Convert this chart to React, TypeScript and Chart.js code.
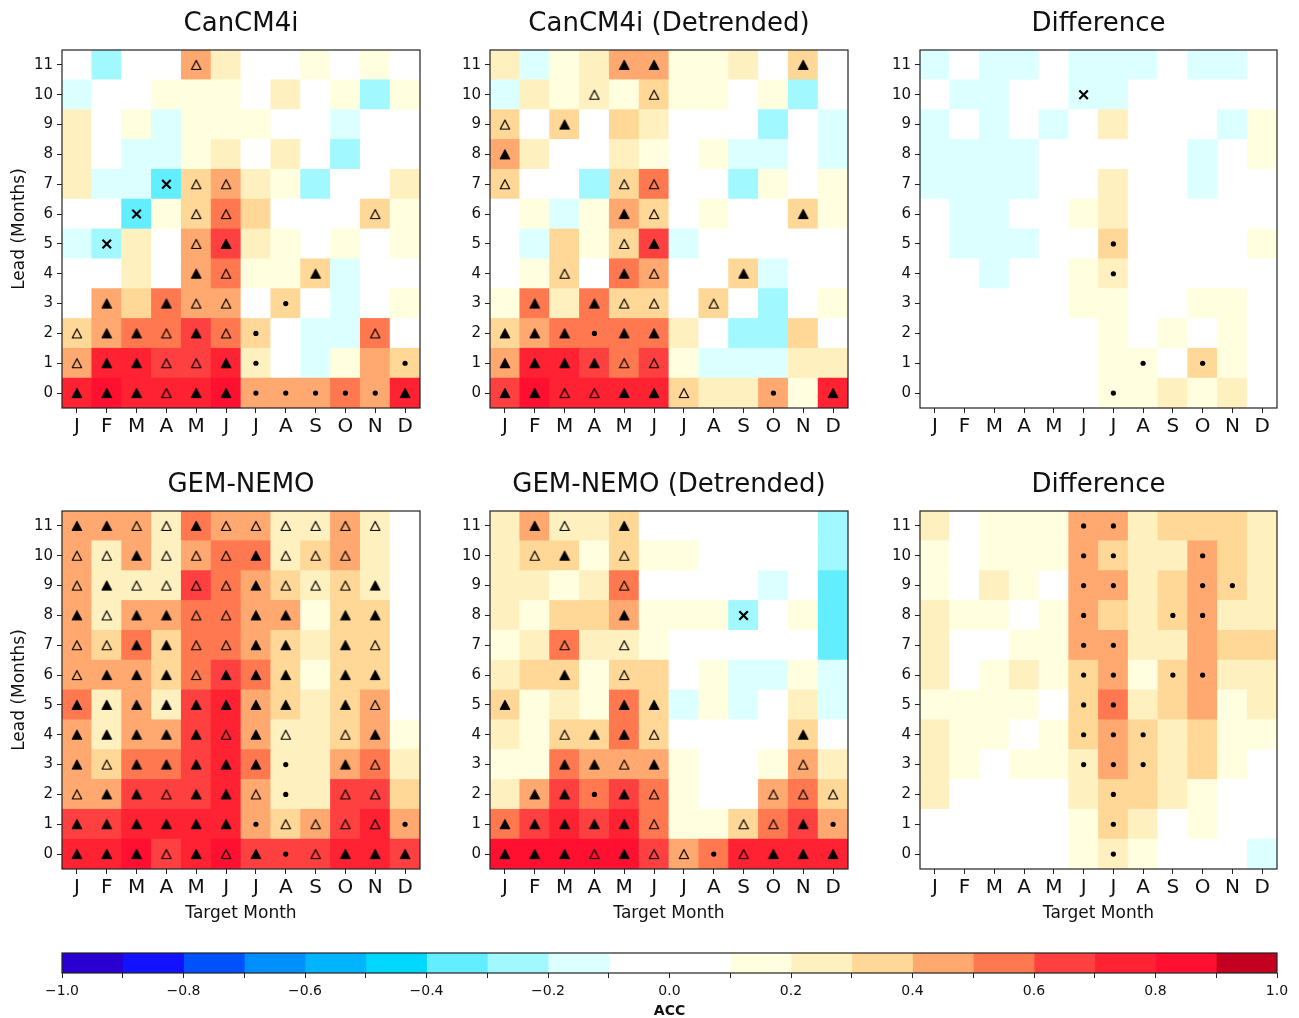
import React, { useEffect, useRef } from 'react';
import { Chart, registerables } from 'chart.js';

Chart.register(...registerables);
Chart.defaults.font.family = "'DejaVu Sans', sans-serif";
Chart.defaults.color = '#111';

// ---------- data ----------
const MONTHS = ['J', 'F', 'M', 'A', 'M', 'J', 'J', 'A', 'S', 'O', 'N', 'D'];
const LEADS = [0, 1, 2, 3, 4, 5, 6, 7, 8, 9, 10, 11];

const LEVEL_BOUNDS = [-1.0, -0.9, -0.8, -0.7, -0.6, -0.5, -0.4, -0.3, -0.2, -0.1, 0.0, 0.1, 0.2, 0.3, 0.4, 0.5, 0.6, 0.7, 0.8, 0.9, 1.0];
const LEVEL_COLORS = [
  '#2a00d2', '#1212ff', '#0052ff', '#008fff', '#00b4ff', '#00d8ff', '#62eeff', '#a2f8ff', '#dcffff', '#ffffff',
  '#ffffff', '#ffffe0', '#fff0c0', '#ffd898', '#ffa870', '#ff7850', '#ff4040', '#ff2232', '#ff1030', '#c40020',
];
const COLORBAR_LABELED = [-1.0, -0.8, -0.6, -0.4, -0.2, 0.0, 0.2, 0.4, 0.6, 0.8, 1.0];

// rows = lead 0..11, columns = target month J..D
// markers: F filled triangle, O open triangle, . dot, x cross, - none
const CANCM4I_ACC = [
  [0.75, 0.85, 0.75, 0.72, 0.78, 0.83, 0.45, 0.42, 0.44, 0.55, 0.46, 0.74],
  [0.45, 0.75, 0.75, 0.65, 0.65, 0.72, 0.25, 0.05, -0.12, 0.15, 0.42, 0.35],
  [0.35, 0.45, 0.55, 0.55, 0.65, 0.55, 0.33, 0.04, -0.13, -0.11, 0.55, 0.02],
  [0.05, 0.45, 0.35, 0.55, 0.45, 0.45, 0.06, 0.35, 0.03, -0.12, 0.02, 0.12],
  [0.02, 0.05, 0.25, 0.01, 0.45, 0.55, 0.15, 0.12, 0.35, -0.12, 0.04, 0.06],
  [-0.15, -0.25, 0.25, 0.05, 0.45, 0.65, 0.25, 0.15, 0.05, 0.12, 0.03, 0.13],
  [0.02, 0.01, -0.35, 0.12, 0.35, 0.55, 0.35, 0.05, 0.04, 0.06, 0.35, 0.14],
  [0.25, -0.15, -0.15, -0.35, 0.35, 0.45, 0.22, 0.13, -0.25, -0.02, 0.05, 0.24],
  [0.25, 0.05, -0.13, -0.15, 0.15, 0.25, 0.03, 0.23, 0.02, -0.25, 0.04, -0.03],
  [0.25, 0.04, 0.12, -0.13, 0.15, 0.14, 0.12, 0.06, 0.03, -0.12, 0.02, 0.01],
  [-0.13, 0.03, 0.05, 0.12, 0.14, 0.13, 0.04, 0.22, 0.02, 0.12, -0.25, 0.11],
  [0.05, -0.25, 0.02, 0.04, 0.45, 0.25, 0.06, 0.03, 0.12, 0.05, 0.12, 0.01],
];
const CANCM4I_SIG = [
  'FFFOFF.....F',
  'OFFOOF.----.',
  'OFFOFO.---O-',
  '-F-FOO-.----',
  '----FO--F---',
  '-x--OF------',
  '--x-OO----O-',
  '---xOO------',
  '------------',
  '------------',
  '------------',
  '----O-------',
];

const CANCM4I_DT_ACC = [
  [0.65, 0.85, 0.75, 0.75, 0.75, 0.78, 0.35, 0.25, 0.25, 0.45, 0.15, 0.72],
  [0.45, 0.75, 0.75, 0.65, 0.55, 0.65, 0.15, -0.15, -0.15, -0.12, 0.25, 0.25],
  [0.35, 0.45, 0.55, 0.55, 0.55, 0.55, 0.25, 0.05, -0.25, -0.25, 0.35, 0.05],
  [0.15, 0.55, 0.25, 0.55, 0.35, 0.35, 0.05, 0.35, 0.05, -0.25, 0.05, 0.12],
  [0.05, 0.12, 0.35, 0.05, 0.55, 0.45, 0.05, 0.05, 0.35, -0.15, 0.05, 0.05],
  [0.05, -0.15, 0.35, 0.12, 0.35, 0.65, -0.12, 0.05, 0.02, 0.04, 0.03, 0.05],
  [0.05, 0.12, -0.15, 0.12, 0.45, 0.35, 0.05, 0.12, 0.05, 0.05, 0.35, 0.12],
  [0.35, 0.05, 0.05, -0.25, 0.35, 0.55, 0.05, 0.05, -0.25, 0.12, 0.05, 0.12],
  [0.45, 0.25, 0.05, 0.05, 0.25, 0.15, 0.05, 0.12, -0.15, -0.15, 0.05, -0.15],
  [0.35, 0.05, 0.35, 0.05, 0.35, 0.25, 0.05, 0.05, 0.05, -0.25, 0.05, -0.15],
  [-0.15, 0.25, 0.15, 0.25, 0.15, 0.35, 0.12, 0.12, 0.05, 0.12, -0.25, 0.05],
  [0.25, -0.15, 0.15, 0.25, 0.45, 0.45, 0.15, 0.15, 0.25, 0.05, 0.35, 0.05],
];
const CANCM4I_DT_SIG = [
  'FFOOFFO--.-F',
  'FFFFOO------',
  'FFF.FF------',
  '-F-FOO-O----',
  '--O-FO--F---',
  '----OF------',
  '----FO----F-',
  'O---OO------',
  'F-----------',
  'O-F---------',
  '---O-O------',
  '----FF----F-',
];

const CANCM4I_DIFF_ACC = [
  [0.05, 0.02, 0.03, 0.05, 0.04, 0.05, 0.15, 0.12, 0.22, 0.15, 0.25, 0.02],
  [0.05, 0.03, 0.02, 0.04, 0.05, 0.02, 0.15, 0.13, 0.05, 0.35, 0.15, 0.03],
  [0.04, 0.02, 0.03, 0.05, 0.01, 0.03, 0.12, 0.05, 0.13, 0.04, 0.12, 0.02],
  [0.03, 0.04, 0.02, 0.01, 0.05, 0.12, 0.14, 0.04, 0.03, 0.12, 0.13, 0.02],
  [0.02, 0.04, -0.12, 0.03, 0.05, 0.12, 0.25, 0.04, 0.02, 0.03, 0.05, 0.01],
  [0.03, -0.13, -0.15, -0.12, 0.02, 0.04, 0.35, 0.03, 0.02, 0.04, 0.03, 0.12],
  [0.02, -0.14, -0.12, 0.03, 0.01, 0.12, 0.25, 0.05, 0.03, 0.02, 0.04, 0.03],
  [-0.12, -0.15, -0.13, -0.11, -0.05, 0.02, 0.25, 0.04, 0.01, -0.12, 0.03, -0.02],
  [-0.13, -0.12, -0.14, -0.12, -0.03, 0.02, -0.04, 0.03, 0.01, -0.13, 0.02, 0.12],
  [-0.12, -0.04, -0.13, -0.02, -0.11, -0.05, 0.25, 0.04, 0.02, -0.03, -0.12, 0.12],
  [-0.05, -0.12, -0.14, -0.03, -0.02, -0.13, -0.12, -0.04, -0.02, 0.01, -0.03, 0.02],
  [-0.13, -0.04, -0.12, -0.14, -0.03, -0.12, -0.15, -0.11, -0.02, -0.12, -0.13, -0.04],
];
const CANCM4I_DIFF_SIG = [
  '------.-----',
  '-------.-.--',
  '------------',
  '------------',
  '------.-----',
  '------.-----',
  '------------',
  '------------',
  '------------',
  '------------',
  '-----x------',
  '------------',
];

const GEMNEMO_ACC = [
  [0.75, 0.78, 0.82, 0.65, 0.78, 0.82, 0.65, 0.62, 0.66, 0.72, 0.74, 0.64],
  [0.65, 0.65, 0.72, 0.72, 0.75, 0.75, 0.45, 0.35, 0.45, 0.65, 0.72, 0.45],
  [0.45, 0.45, 0.65, 0.65, 0.65, 0.75, 0.45, 0.25, 0.25, 0.65, 0.65, 0.35],
  [0.45, 0.35, 0.55, 0.55, 0.65, 0.75, 0.55, 0.25, 0.25, 0.45, 0.55, 0.25],
  [0.45, 0.25, 0.45, 0.45, 0.65, 0.75, 0.45, 0.25, 0.25, 0.35, 0.45, 0.15],
  [0.55, 0.25, 0.45, 0.25, 0.65, 0.75, 0.45, 0.35, 0.25, 0.35, 0.45, 0.05],
  [0.45, 0.45, 0.45, 0.35, 0.55, 0.65, 0.55, 0.35, 0.15, 0.35, 0.35, 0.05],
  [0.45, 0.35, 0.55, 0.35, 0.55, 0.55, 0.45, 0.35, 0.25, 0.35, 0.35, 0.05],
  [0.45, 0.25, 0.45, 0.45, 0.55, 0.55, 0.45, 0.45, 0.15, 0.35, 0.35, 0.05],
  [0.45, 0.25, 0.25, 0.25, 0.65, 0.55, 0.45, 0.35, 0.25, 0.35, 0.25, 0.05],
  [0.45, 0.25, 0.45, 0.25, 0.45, 0.55, 0.55, 0.25, 0.35, 0.45, 0.25, 0.05],
  [0.45, 0.45, 0.45, 0.25, 0.55, 0.45, 0.45, 0.25, 0.25, 0.45, 0.25, 0.05],
];
const GEMNEMO_SIG = [
  'FFFOFOF.OFFF',
  'FFFFFF.OOOO.',
  'OFFOFFO.-OO-',
  'FOFFFFF.-FO-',
  'FFFFFOFO-OF-',
  'FFFFFFFF-FO-',
  'OFFFOFFF-FF-',
  'OOFFOOFF-FO-',
  'FOFFOOFF-FF-',
  'OFOOOOFOOOF-',
  'OOFOOOFOOO--',
  'FFOOFOOOOOO-',
];

const GEMNEMO_DT_ACC = [
  [0.85, 0.85, 0.85, 0.82, 0.85, 0.65, 0.45, 0.55, 0.75, 0.75, 0.75, 0.75],
  [0.55, 0.65, 0.72, 0.65, 0.72, 0.55, 0.15, 0.15, 0.35, 0.55, 0.65, 0.45],
  [0.25, 0.45, 0.65, 0.55, 0.65, 0.55, 0.15, 0.05, 0.05, 0.45, 0.55, 0.35],
  [0.15, 0.15, 0.55, 0.45, 0.45, 0.45, 0.15, 0.05, 0.05, 0.15, 0.45, 0.25],
  [0.25, 0.15, 0.35, 0.35, 0.55, 0.35, 0.05, 0.05, 0.05, 0.05, 0.35, 0.05],
  [0.35, 0.15, 0.25, 0.15, 0.55, 0.35, -0.15, 0.15, -0.15, 0.05, 0.25, -0.15],
  [0.25, 0.35, 0.35, 0.15, 0.35, 0.35, 0.05, 0.15, -0.15, -0.15, 0.15, -0.15],
  [0.15, 0.25, 0.55, 0.25, 0.25, 0.15, 0.05, 0.05, 0.05, 0.05, 0.05, -0.35],
  [0.25, 0.15, 0.35, 0.35, 0.45, 0.15, 0.15, 0.15, -0.25, 0.05, 0.15, -0.35],
  [0.25, 0.25, 0.15, 0.25, 0.55, 0.05, 0.05, 0.05, 0.05, -0.15, 0.05, -0.35],
  [0.25, 0.35, 0.35, 0.15, 0.35, 0.15, 0.15, 0.05, 0.05, 0.05, 0.05, -0.25],
  [0.25, 0.45, 0.25, 0.25, 0.35, 0.05, 0.05, 0.05, 0.05, 0.05, 0.05, -0.25],
];
const GEMNEMO_DT_SIG = [
  'FFFOFOO.OFFF',
  'FFFFFO--OOF.',
  '-FF.FO---OOO',
  '--FFOF----O-',
  '--OFFO----F-',
  'F---FF------',
  '--F-O-------',
  '--O-O-------',
  '----F---x---',
  '----O-------',
  '-OF-O-------',
  '-FO-F-------',
];

const GEMNEMO_DIFF_ACC = [
  [0.05, 0.03, 0.02, 0.04, 0.05, 0.15, 0.25, 0.12, 0.05, 0.02, 0.04, -0.12],
  [0.05, 0.02, 0.03, 0.05, 0.04, 0.12, 0.35, 0.25, 0.05, 0.12, 0.05, 0.02],
  [0.25, 0.05, 0.05, 0.05, 0.05, 0.25, 0.35, 0.35, 0.25, 0.12, 0.05, 0.05],
  [0.25, 0.12, 0.05, 0.12, 0.12, 0.25, 0.45, 0.35, 0.25, 0.35, 0.12, 0.05],
  [0.25, 0.12, 0.12, 0.05, 0.12, 0.35, 0.45, 0.35, 0.25, 0.35, 0.12, 0.12],
  [0.15, 0.12, 0.12, 0.12, 0.05, 0.35, 0.55, 0.25, 0.35, 0.45, 0.12, 0.25],
  [0.25, 0.05, 0.12, 0.25, 0.12, 0.35, 0.45, 0.12, 0.35, 0.45, 0.25, 0.25],
  [0.25, 0.05, 0.05, 0.12, 0.12, 0.45, 0.45, 0.25, 0.25, 0.45, 0.35, 0.35],
  [0.25, 0.12, 0.12, 0.05, 0.12, 0.45, 0.35, 0.25, 0.35, 0.45, 0.25, 0.25],
  [0.12, 0.05, 0.25, 0.12, 0.05, 0.45, 0.45, 0.25, 0.35, 0.45, 0.35, 0.25],
  [0.12, 0.05, 0.12, 0.12, 0.12, 0.45, 0.35, 0.25, 0.25, 0.45, 0.35, 0.25],
  [0.25, 0.05, 0.12, 0.12, 0.12, 0.45, 0.45, 0.25, 0.35, 0.35, 0.35, 0.25],
];
const GEMNEMO_DIFF_SIG = [
  '------.-----',
  '------.-----',
  '------.-----',
  '-----...----',
  '-----...----',
  '-----..-----',
  '-----..-..--',
  '-----..-----',
  '-----.--..--',
  '-----..--..-',
  '-----..--.--',
  '-----..-----',
];

// ---------- helpers ----------
function colorFor(v: number): string {
  let k = Math.floor(v * 10 + 1e-9);
  k = Math.max(-10, Math.min(9, k));
  return LEVEL_COLORS[k + 10];
}

let triCache: { filled: HTMLCanvasElement; open: HTMLCanvasElement } | null = null;
function triangles() {
  if (triCache) return triCache;
  const make = (filled: boolean) => {
    const c = document.createElement('canvas');
    c.width = 12;
    c.height = 12;
    const g = c.getContext('2d')!;
    g.beginPath();
    g.moveTo(6, 1.5);
    g.lineTo(1.3, 10.5);
    g.lineTo(10.7, 10.5);
    g.closePath();
    g.lineWidth = 1.2;
    g.lineJoin = 'round';
    g.strokeStyle = '#000';
    if (filled) {
      g.fillStyle = '#000';
      g.fill();
    }
    g.stroke();
    return c;
  };
  triCache = { filled: make(true), open: make(false) };
  return triCache;
}

function markerStyle(ch: string): any {
  const t = triangles();
  if (ch === 'F') return t.filled;
  if (ch === 'O') return t.open;
  if (ch === 'x') return 'crossRot';
  return 'circle';
}
function markerRadius(ch: string): number {
  if (ch === 'F' || ch === 'O') return 5;
  if (ch === 'x') return 6;
  if (ch === '.') return 2.6;
  return 0;
}

const framePlugin = {
  id: 'frame',
  afterDatasetsDraw(chart: any) {
    const { ctx, chartArea: a } = chart;
    ctx.save();
    ctx.strokeStyle = '#222';
    ctx.lineWidth = 1.2;
    ctx.strokeRect(a.left, a.top, a.right - a.left, a.bottom - a.top);
    ctx.restore();
  },
};

type PanelSpec = {
  title: string;
  acc: number[][];
  sig: string[];
  left: number;
  top: number;
  width: number;
  height: number;
  yAxisW: number;
  xAxisH: number;
  padRight: number;
  yTitle: boolean;
  xTitle: boolean;
};

const TOP = 0;
const BOTTOM = 461;
const PANELS: PanelSpec[] = [
  { title: 'CanCM4i', acc: CANCM4I_ACC, sig: CANCM4I_SIG, left: 0, top: TOP, width: 430, height: 458, yAxisW: 62, xAxisH: 50, padRight: 10, yTitle: true, xTitle: false },
  { title: 'CanCM4i (Detrended)', acc: CANCM4I_DT_ACC, sig: CANCM4I_DT_SIG, left: 430, top: TOP, width: 430, height: 458, yAxisW: 60, xAxisH: 50, padRight: 12, yTitle: false, xTitle: false },
  { title: 'Difference', acc: CANCM4I_DIFF_ACC, sig: CANCM4I_DIFF_SIG, left: 860, top: TOP, width: 439, height: 458, yAxisW: 60, xAxisH: 50, padRight: 22, yTitle: false, xTitle: false },
  { title: 'GEM-NEMO', acc: GEMNEMO_ACC, sig: GEMNEMO_SIG, left: 0, top: BOTTOM, width: 430, height: 469, yAxisW: 62, xAxisH: 61, padRight: 10, yTitle: true, xTitle: true },
  { title: 'GEM-NEMO (Detrended)', acc: GEMNEMO_DT_ACC, sig: GEMNEMO_DT_SIG, left: 430, top: BOTTOM, width: 430, height: 469, yAxisW: 60, xAxisH: 61, padRight: 12, yTitle: false, xTitle: true },
  { title: 'Difference', acc: GEMNEMO_DIFF_ACC, sig: GEMNEMO_DIFF_SIG, left: 860, top: BOTTOM, width: 439, height: 469, yAxisW: 60, xAxisH: 61, padRight: 22, yTitle: false, xTitle: true },
];

function buildHeatConfig(spec: PanelSpec): any {
  const datasets: any[] = [];
  LEADS.forEach((lead, li) => {
    datasets.push({
      type: 'bar',
      label: 'lead ' + lead,
      data: MONTHS.map(() => [lead - 0.5, lead + 0.5]),
      backgroundColor: spec.acc[li].map(colorFor),
      borderWidth: 0,
      grouped: false,
      barPercentage: 1,
      categoryPercentage: 1,
      inflateAmount: 0.4,
      order: 2,
    });
  });
  LEADS.forEach((lead, li) => {
    const row = spec.sig[li];
    datasets.push({
      type: 'line',
      label: 'sig ' + lead,
      data: MONTHS.map((_, mi) => (row[mi] === '-' ? null : lead)),
      showLine: false,
      order: 1,
      pointStyle: (c: any) => markerStyle(row[c.dataIndex] || '.'),
      pointRadius: (c: any) => markerRadius(row[c.dataIndex] || '-'),
      pointHoverRadius: (c: any) => markerRadius(row[c.dataIndex] || '-'),
      pointBorderWidth: (c: any) => (row[c.dataIndex] === 'x' ? 2.2 : 0),
      pointBackgroundColor: '#000',
      pointBorderColor: '#000',
    });
  });

  return {
    type: 'bar',
    data: { labels: MONTHS, datasets },
    plugins: [framePlugin],
    options: {
      responsive: false,
      animation: false,
      events: [],
      devicePixelRatio: 1,
      layout: { padding: { left: 0, right: spec.padRight, top: 0, bottom: 0 } },
      plugins: {
        legend: { display: false },
        tooltip: { enabled: false },
        title: {
          display: true,
          text: spec.title,
          fullSize: false,
          color: '#111',
          font: { size: 26, weight: 'normal' },
          padding: { top: 9, bottom: 9.8 },
        },
      },
      scales: {
        x: {
          type: 'category',
          offset: true,
          grid: { display: true, drawOnChartArea: false, drawTicks: true, tickLength: 5, color: '#222', offset: false },
          border: { display: false },
          ticks: { font: { size: 20 }, color: '#111', padding: 2, autoSkip: false, maxRotation: 0 },
          title: {
            display: spec.xTitle,
            text: 'Target Month',
            color: '#111',
            font: { size: 17 },
            padding: { top: 0, bottom: 6 },
          },
          afterFit: (s: any) => {
            s.height = spec.xAxisH;
          },
        },
        y: {
          type: 'linear',
          min: -0.5,
          max: 11.5,
          afterBuildTicks: (s: any) => {
            s.ticks = LEADS.map((v) => ({ value: v }));
          },
          grid: { display: true, drawOnChartArea: false, drawTicks: true, tickLength: 5, color: '#222' },
          border: { display: false },
          ticks: { font: { size: 15 }, color: '#111', padding: 4, callback: (v: any) => String(v) },
          title: {
            display: spec.yTitle,
            text: 'Lead (Months)',
            color: '#111',
            font: { size: 17 },
            padding: { top: 9, bottom: 0 },
          },
          afterFit: (s: any) => {
            s.width = spec.yAxisW;
          },
        },
      },
    },
  };
}

function HeatPanel({ spec }: { spec: PanelSpec }) {
  const ref = useRef<HTMLCanvasElement | null>(null);
  useEffect(() => {
    if (!ref.current) return;
    const chart = new Chart(ref.current, buildHeatConfig(spec));
    return () => chart.destroy();
  }, [spec]);
  return (
    <canvas
      ref={ref}
      width={spec.width}
      height={spec.height}
      style={{ position: 'absolute', left: spec.left, top: spec.top, width: spec.width, height: spec.height }}
    />
  );
}

function ColorBar() {
  const ref = useRef<HTMLCanvasElement | null>(null);
  useEffect(() => {
    if (!ref.current) return;
    const datasets = LEVEL_COLORS.map((c, i) => ({
      label: 'level ' + i,
      data: [[LEVEL_BOUNDS[i], LEVEL_BOUNDS[i + 1]]],
      backgroundColor: c,
      borderWidth: 0,
      grouped: false,
      barPercentage: 1,
      categoryPercentage: 1,
      inflateAmount: 0.4,
    }));
    const chart = new Chart(ref.current, {
      type: 'bar',
      data: { labels: [''], datasets },
      plugins: [framePlugin],
      options: {
        indexAxis: 'y',
        responsive: false,
        animation: false,
        events: [],
        devicePixelRatio: 1,
        layout: { padding: { left: 62, right: 22, top: 23, bottom: 0 } },
        plugins: { legend: { display: false }, tooltip: { enabled: false }, title: { display: false } },
        scales: {
          x: {
            type: 'linear',
            min: -1,
            max: 1,
            afterBuildTicks: (s: any) => {
              s.ticks = LEVEL_BOUNDS.map((v) => ({ value: v }));
            },
            grid: { display: true, drawOnChartArea: false, drawTicks: true, tickLength: 5, color: '#222' },
            border: { display: false },
            ticks: {
              autoSkip: false,
              maxRotation: 0,
              font: { size: 14 },
              color: '#111',
              padding: 4.6,
              callback: (v: any) => {
                const hit = COLORBAR_LABELED.find((t) => Math.abs(t - v) < 1e-6);
                return hit === undefined ? '' : hit.toFixed(1).replace('-', '\u2212');
              },
            },
            title: {
              display: true,
              text: 'ACC',
              color: '#111',
              font: { size: 14, weight: 'bold', lineHeight: 1 },
              padding: { top: 0, bottom: 0 },
            },
            afterFit: (s: any) => {
              s.height = 45;
            },
          },
          y: { type: 'category', display: false, offset: true },
        },
      },
    } as any);
    return () => chart.destroy();
  }, []);
  return (
    <canvas
      ref={ref}
      width={1299}
      height={88}
      style={{ position: 'absolute', left: 0, top: 930, width: 1299, height: 88 }}
    />
  );
}

export default function App() {
  return (
    <div style={{ position: 'absolute', left: 0, top: 0, width: 1299, height: 1018, background: '#ffffff', overflow: 'hidden' }}>
      {PANELS.map((p) => (
        <HeatPanel key={p.title + p.left + '-' + p.top} spec={p} />
      ))}
      <ColorBar />
    </div>
  );
}
